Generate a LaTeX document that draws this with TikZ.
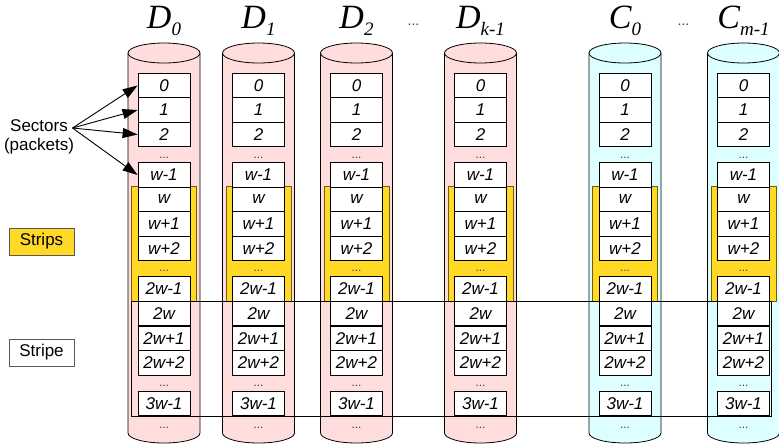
\documentclass[tikz,border=0pt]{standalone}
\usepackage{fontspec}
\setmainfont{Liberation Sans}
\newfontfamily\titleserif{Liberation Serif}
\usetikzlibrary{arrows.meta}
\definecolor{diskpink}{HTML}{FFDDDD}
\definecolor{diskcyan}{HTML}{DDFFFF}
\definecolor{stripyellow}{HTML}{FFD925}
\definecolor{stripedge}{HTML}{6E5C10}
\pgfdeclarelayer{bg}
\pgfdeclarelayer{mid}
\pgfsetlayers{bg,mid,main}
\tikzset{
  sector/.style={draw=black, fill=white, line width=0.8pt, minimum width=52pt,
    minimum height=24.5pt, inner sep=0pt, font=\fontsize{17}{17}\selectfont\itshape},
  gapdots/.style={anchor=base, inner sep=0pt, text=black!75, font=\fontsize{12}{12}\selectfont},
  disk/.style={draw=black, line width=0.8pt},
  strip/.style={fill=stripyellow, draw=stripedge, line width=0.8pt},
  stripebox/.style={draw=black, line width=0.9pt},
  legend/.style={draw=black!65, line width=0.8pt, minimum width=65pt, minimum height=27pt,
    inner sep=0pt, font=\fontsize{17}{17}\selectfont},
  title/.style={anchor=base, inner sep=0pt, font=\titleserif\itshape\fontsize{34}{34}\selectfont},
  sectorarrow/.style={line width=0.9pt, -{Triangle[length=15pt,width=10pt]}},
}
\begin{document}
\begin{tikzpicture}[x=1pt,y=1pt]
\useasboundingbox (0,0) rectangle (779,-445);
% cylinders
\foreach \nm/\xo/\col/\mn/\sb in {D0/128/diskpink/D/0, D1/222.5/diskpink/D/1, D2/320.5/diskpink/D/2,
    Dk/444.5/diskpink/D/k-1, C0/589/diskcyan/C/0, Cm/707.5/diskcyan/C/m-1}{
  \pgfmathsetmacro{\cx}{\xo+36}
  \pgfmathsetmacro{\xe}{\xo+72}
  \begin{pgfonlayer}{bg}
  \fill[\col] (\xo,-53) -- (\xo,-433) arc[start angle=180,end angle=360,x radius=36,y radius=10]
     -- (\xe,-53) -- cycle;
  \draw[disk] (\xo,-53) -- (\xo,-433) arc[start angle=180,end angle=360,x radius=36,y radius=10]
     -- (\xe,-53);
  \draw[disk, fill=\col] (\cx,-53) ellipse[x radius=36,y radius=10];
  \fill[strip] (\xo+3.5,-186.5) rectangle (\xo+68.5,-301);
  \end{pgfonlayer}
  \node[title] (\nm-title) at (\cx,-28) {\mn\raisebox{-7pt}{\fontsize{19}{19}\selectfont\sb}};
  % sectors
  \foreach \lab/\yc [count=\i] in {0/85.5, 1/110, 2/134.5, w-1/175, w/199.5, w+1/224, w+2/248.5,
      2w-1/289, 2w/313.5, 2w+1/338.5, 2w+2/363, 3w-1/403.5}{
    \node[sector] (\nm-\i) at (\cx,-\yc) {\lab};
  }
  \foreach \yd [count=\j] in {158,271,386,428}{
    \node[gapdots] (\nm-dots\j) at (\cx,-\yd) {...};
  }
}
% stripe
\begin{pgfonlayer}{mid}
\draw[stripebox] (131.5,-301) rectangle (771.5,-416.5);
\end{pgfonlayer}
% between-disk dots
\node[gapdots, font=\fontsize{14}{14}\selectfont] (dotsD) at (413.5,-25) {...};
\node[gapdots, font=\fontsize{14}{14}\selectfont] (dotsC) at (683.5,-25) {...};
% legend
\node[align=center, inner sep=0pt, font=\fontsize{17}{19.5}\selectfont] (sectors) at (39,-137) {Sectors\\(packets)};
\coordinate (src) at (72.5,-128);
\foreach \i in {1,2,3,4}{
  \draw[sectorarrow] (src) -- (D0-\i.west);
}
\node[legend, fill=stripyellow] (strips) at (41.5,-241.5) {Strips};
\node[legend, fill=white] (stripe) at (41.5,-352.5) {Stripe};
\end{tikzpicture}
\end{document}
